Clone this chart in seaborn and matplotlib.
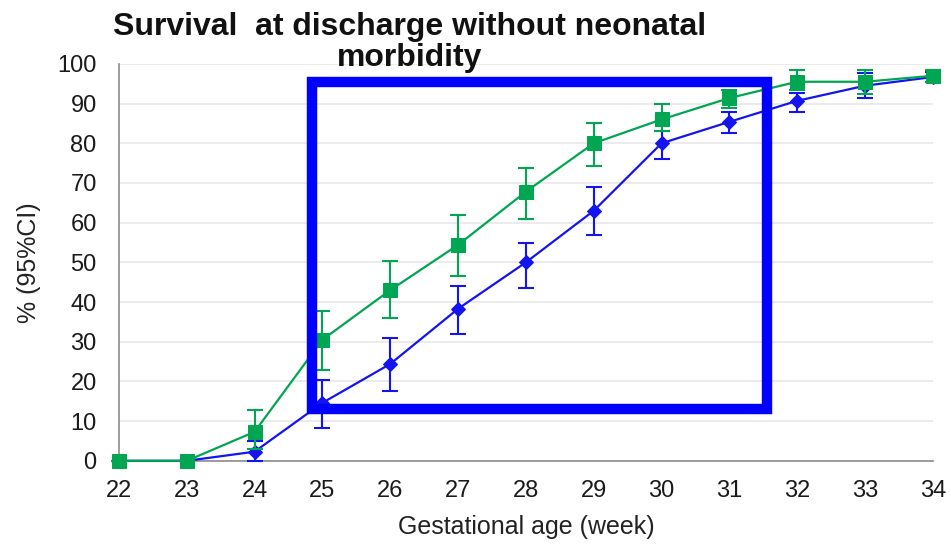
import matplotlib
matplotlib.use("Agg")
import matplotlib.pyplot as plt
import matplotlib.patches as mpatches
import seaborn as sns
import pandas as pd

weeks = [22, 23, 24, 25, 26, 27, 28, 29, 30, 31, 32, 33, 34]

green_val = [0, 0, 7.3, 30.5, 43, 54.4, 67.8, 80, 86, 91.4, 95.5, 95.5, 97]
green_lo = [0, 0, 3, 23, 36, 46.6, 61, 74.3, 83, 89, 93.5, 92.5, 95.5]
green_hi = [0, 0, 12.8, 37.8, 50.4, 62, 73.8, 85, 90, 93.5, 98.5, 98.5, 98.5]

blue_val = [0, 0, 2.3, 14.6, 24.4, 38.3, 50, 63, 80, 85.4, 90.7, 94.5, 96.7]
blue_lo = [0, 0, 0, 8.3, 17.6, 32, 43.6, 57, 76, 82.6, 88, 91.4, 95.5]
blue_hi = [0, 0, 5, 20.4, 31, 44, 55, 69, 83, 88, 92.6, 97.7, 98]

# highlight box (x from, x to, y from, y to)
box_x = [24.84, 31.56]
box_y = [13.1, 95.5]

GREEN = "#00A651"
BLUE = "#1414F0"

sns.set_style("white")
plt.rcParams["font.family"] = ["Liberation Sans", "DejaVu Sans"]

df_g = pd.DataFrame({"week": weeks, "val": green_val})
df_b = pd.DataFrame({"week": weeks, "val": blue_val})

fig = plt.figure(figsize=(9.51, 5.46), dpi=100)
ax = fig.add_axes([0.125, 0.156, 0.856, 0.727])

ax.yaxis.grid(True, color="#e8e8e8", linewidth=1.2)
ax.set_axisbelow(True)

# blue series
ax.errorbar(weeks, blue_val,
            yerr=[[v - l for v, l in zip(blue_val, blue_lo)],
                  [h - v for v, h in zip(blue_val, blue_hi)]],
            fmt="none", ecolor=BLUE, elinewidth=1.5, capsize=5.5, capthick=1.5,
            clip_on=False, zorder=3)
sns.lineplot(data=df_b, x="week", y="val", ax=ax, color=BLUE, linewidth=1.6,
             marker="D", markersize=7, markeredgecolor=BLUE, clip_on=False, zorder=4)

# green series
ax.errorbar(weeks, green_val,
            yerr=[[v - l for v, l in zip(green_val, green_lo)],
                  [h - v for v, h in zip(green_val, green_hi)]],
            fmt="none", ecolor=GREEN, elinewidth=1.5, capsize=5.5, capthick=1.5,
            clip_on=False, zorder=5)
sns.lineplot(data=df_g, x="week", y="val", ax=ax, color=GREEN, linewidth=1.6,
             marker="s", markersize=10.5, markeredgecolor=GREEN, clip_on=False, zorder=6)

rect = mpatches.Rectangle((box_x[0], box_y[0]), box_x[1] - box_x[0], box_y[1] - box_y[0],
                          fill=False, edgecolor="#0000FF", linewidth=7.5, zorder=10,
                          joinstyle="miter")
ax.add_patch(rect)

ax.set_xlim(22, 34)
ax.set_ylim(0, 100)
ax.set_xticks(weeks)
ax.set_yticks(range(0, 101, 10))
ax.tick_params(axis="both", direction="out", length=7, width=1.2, color="#8c8c8c",
               labelsize=17, labelcolor="#1a1a1a")
ax.tick_params(axis="x", pad=7)
ax.tick_params(axis="y", pad=9)
for side in ["top", "right"]:
    ax.spines[side].set_visible(False)
for side in ["left", "bottom"]:
    ax.spines[side].set_color("#8c8c8c")
    ax.spines[side].set_linewidth(1.2)

ax.set_xlabel("Gestational age (week)", fontsize=18, color="#222222", labelpad=9)
ax.set_ylabel("% (95%CI)", fontsize=18, color="#222222", labelpad=12)

fig.text(0.431, 0.978, "Survival  at discharge without neonatal\nmorbidity",
         ha="center", va="top", fontsize=23, fontweight="bold", color="#111111",
         linespacing=1.05)

fig.savefig("out.png", dpi=100)
